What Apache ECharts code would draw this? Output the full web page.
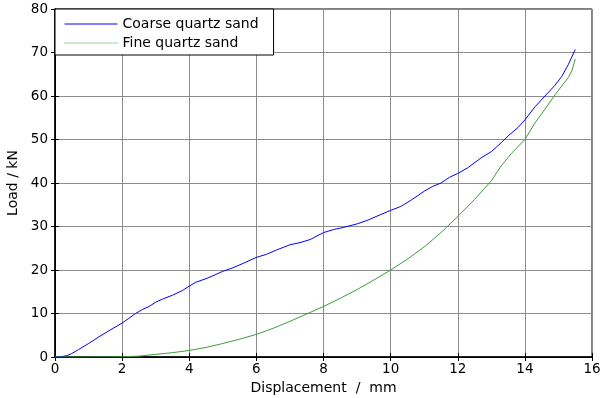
<!DOCTYPE html>
<html><head><meta charset="utf-8">
<script src="https://cdn.jsdelivr.net/npm/echarts@6/dist/echarts.min.js"></script>
<style>html,body{margin:0;padding:0;background:#fff}#c{width:601px;height:398px}</style>
</head><body><div id="c"></div>
<script>
const seriesNames = ['Coarse quartz sand', 'Fine quartz sand'];
const coarseX = [0,0.2,0.35,0.5,0.7,1.0,1.3,1.6,2.0,2.2,2.4,2.6,2.8,3.0,3.2,3.5,3.8,4.0,4.2,4.5,4.8,5.0,5.3,5.6,6.0,6.3,6.6,7.0,7.3,7.6,8.0,8.3,8.6,9.0,9.3,9.6,10.0,10.3,10.6,11.0,11.25,11.5,11.75,12.0,12.3,12.7,13.0,13.3,13.5,13.8,14.0,14.3,14.6,14.9,15.1,15.3,15.5];
const coarseY = [0,0.1,0.3,0.8,1.7,3.1,4.6,6.0,7.8,8.9,10.0,10.9,11.6,12.6,13.3,14.2,15.3,16.3,17.2,18.0,19.0,19.7,20.5,21.5,22.9,23.6,24.6,25.8,26.3,27.0,28.6,29.3,29.8,30.6,31.4,32.4,33.7,34.6,36.0,38.1,39.2,40.0,41.3,42.2,43.5,45.8,47.2,49.3,50.8,52.8,54.5,57.5,60.0,62.5,64.5,67.3,70.7];
const fineX = [0,1.0,2.0,2.5,3.0,3.5,4.0,4.5,5.0,5.5,6.0,6.5,7.0,7.5,8.0,8.5,9.0,9.5,10.0,10.5,11.0,11.5,12.0,12.5,13.0,13.3,13.6,14.0,14.3,14.6,14.9,15.1,15.3,15.4,15.5];
const fineY = [0,0,0.05,0.2,0.6,1.0,1.5,2.2,3.1,4.1,5.2,6.6,8.2,9.9,11.6,13.5,15.5,17.7,20.0,22.5,25.3,28.6,32.3,36.2,40.5,44.0,46.8,50.0,53.8,57.0,60.3,62.3,64.3,65.8,68.5];
const xTicks = [0,2,4,6,8,10,12,14,16];
const yTicks = [0,10,20,30,40,50,60,70,80];

const zip = (xs, ys) => xs.map((x, i) => [x, ys[i]]);
const font = 'DejaVu Sans, sans-serif';
const coarseColor = '#0000ff', fineColor = '#3c9c3c';
const chart = echarts.init(document.getElementById('c'), null, {renderer: 'canvas'});
chart.setOption({
  animation: false,
  backgroundColor: '#fff',
  grid: {left: 55, right: 9, top: 9, bottom: 41, outerBoundsMode: 'none', containLabel: false,
         show: true, borderColor: '#000', borderWidth: 1},
  legend: {
    orient: 'vertical', left: 55, top: 9,
    data: [
      {name: seriesNames[0], lineStyle: {color: coarseColor, width: 1}},
      {name: seriesNames[1], lineStyle: {color: fineColor, width: 1, type: [1, 1]}}
    ],
    itemWidth: 53, itemHeight: 14, itemGap: 5,
    padding: [8, 15, 5, 9],
    itemStyle: {color: 'rgba(0,0,0,0)', borderWidth: 0, opacity: 0},
    backgroundColor: '#fff', borderColor: '#000', borderWidth: 1,
    textStyle: {fontFamily: font, fontSize: 14, color: '#000'}
  },
  xAxis: [{
    type: 'value', min: 0, max: 16, interval: 2,
    name: 'Displacement  /  mm', nameLocation: 'middle', nameGap: 22,
    nameTextStyle: {fontFamily: font, fontSize: 14, color: '#000'},
    axisLine: {onZero: false, lineStyle: {color: '#000', width: 1.5}},
    axisTick: {inside: true, length: 4, lineStyle: {color: '#000'}},
    axisLabel: {fontFamily: font, fontSize: 13.5, color: '#000', margin: 5,
      formatter: v => xTicks.includes(v) ? String(v) : ''},
    splitLine: {show: true, lineStyle: {color: '#8c8c8c', width: 1}}
  }, {
    type: 'value', min: 0, max: 16, interval: 2, position: 'top',
    axisLine: {show: true, lineStyle: {color: '#000'}},
    axisTick: {inside: true, length: 4, lineStyle: {color: '#000'}},
    axisLabel: {show: false}, splitLine: {show: false}
  }],
  yAxis: [{
    type: 'value', min: 0, max: 80, interval: 10,
    name: 'Load / kN', nameLocation: 'middle', nameGap: 34, nameRotate: 90,
    nameTextStyle: {fontFamily: font, fontSize: 14, color: '#000'},
    axisLine: {onZero: false, show: true, lineStyle: {color: '#000', width: 1}},
    axisTick: {show: true, inside: true, length: 4, lineStyle: {color: '#000'}},
    axisLabel: {fontFamily: font, fontSize: 13.5, color: '#000', margin: 7,
      formatter: v => yTicks.includes(v) ? String(v) : ''},
    splitLine: {show: true, lineStyle: {color: '#8c8c8c', width: 1}}
  }, {
    type: 'value', min: 0, max: 80, interval: 10, position: 'right',
    axisLine: {show: true, lineStyle: {color: '#000', width: 1.5}},
    axisTick: {show: true, inside: true, length: 4, lineStyle: {color: '#000'}},
    axisLabel: {show: false}, splitLine: {show: false}
  }],
  series: [{
    name: seriesNames[0], type: 'line', symbol: 'none', smooth: false,
    data: zip(coarseX, coarseY),
    lineStyle: {color: coarseColor, width: 1}, itemStyle: {color: coarseColor}
  }, {
    name: seriesNames[1], type: 'line', symbol: 'none', smooth: false,
    data: zip(fineX, fineY),
    lineStyle: {color: fineColor, width: 1}, itemStyle: {color: fineColor}
  }]
});
</script></body></html>
